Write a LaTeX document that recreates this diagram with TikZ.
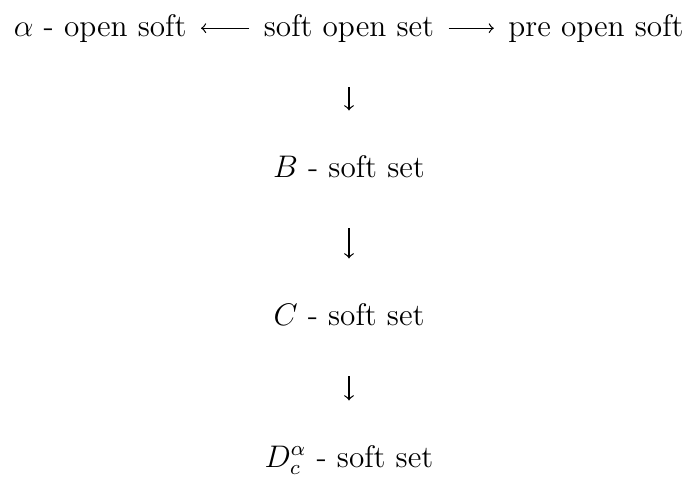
\documentclass[tikz,border=0pt]{standalone}
\usepackage{amsmath,amssymb}
\usetikzlibrary{arrows}

\begin{document}
\begin{tikzpicture}[x=0.3843pt,y=-0.3843pt,
  txt/.style={inner sep=0pt,font=\fontsize{12}{14}\selectfont,text height=8.4pt,text depth=2.4pt},
  imp/.style={->,>=to,line width=0.48pt,shorten <=17pt,shorten >=17pt}]
\useasboundingbox (0,0) rectangle (687,478);
\node[txt,anchor=base] (sopen) at (349,36) {soft open set};
\node[txt,anchor=base east] (alpha) at (187,36) {$\alpha$ - open soft};
\node[txt,anchor=base east] (pre) at (684,36) {pre open soft};
\node[txt,anchor=base] (bset) at (349,177) {$B$ - soft set};
\node[txt,anchor=base] (cset) at (349,325) {$C$ - soft set};
\node[txt,anchor=base] (dset) at (349,467) {$D_c^\alpha$ - soft set};

\path[->,>=to,line width=0.48pt] (sopen) edge[shorten <=5.4pt,shorten >=5.4pt] (alpha);
\path[->,>=to,line width=0.48pt] (sopen) edge[shorten <=5.4pt,shorten >=5.4pt] (pre);
\draw[imp] (sopen) -- (bset);
\draw[imp] (bset) -- (cset);
\draw[imp] (cset) -- (dset);
\end{tikzpicture}
\end{document}
